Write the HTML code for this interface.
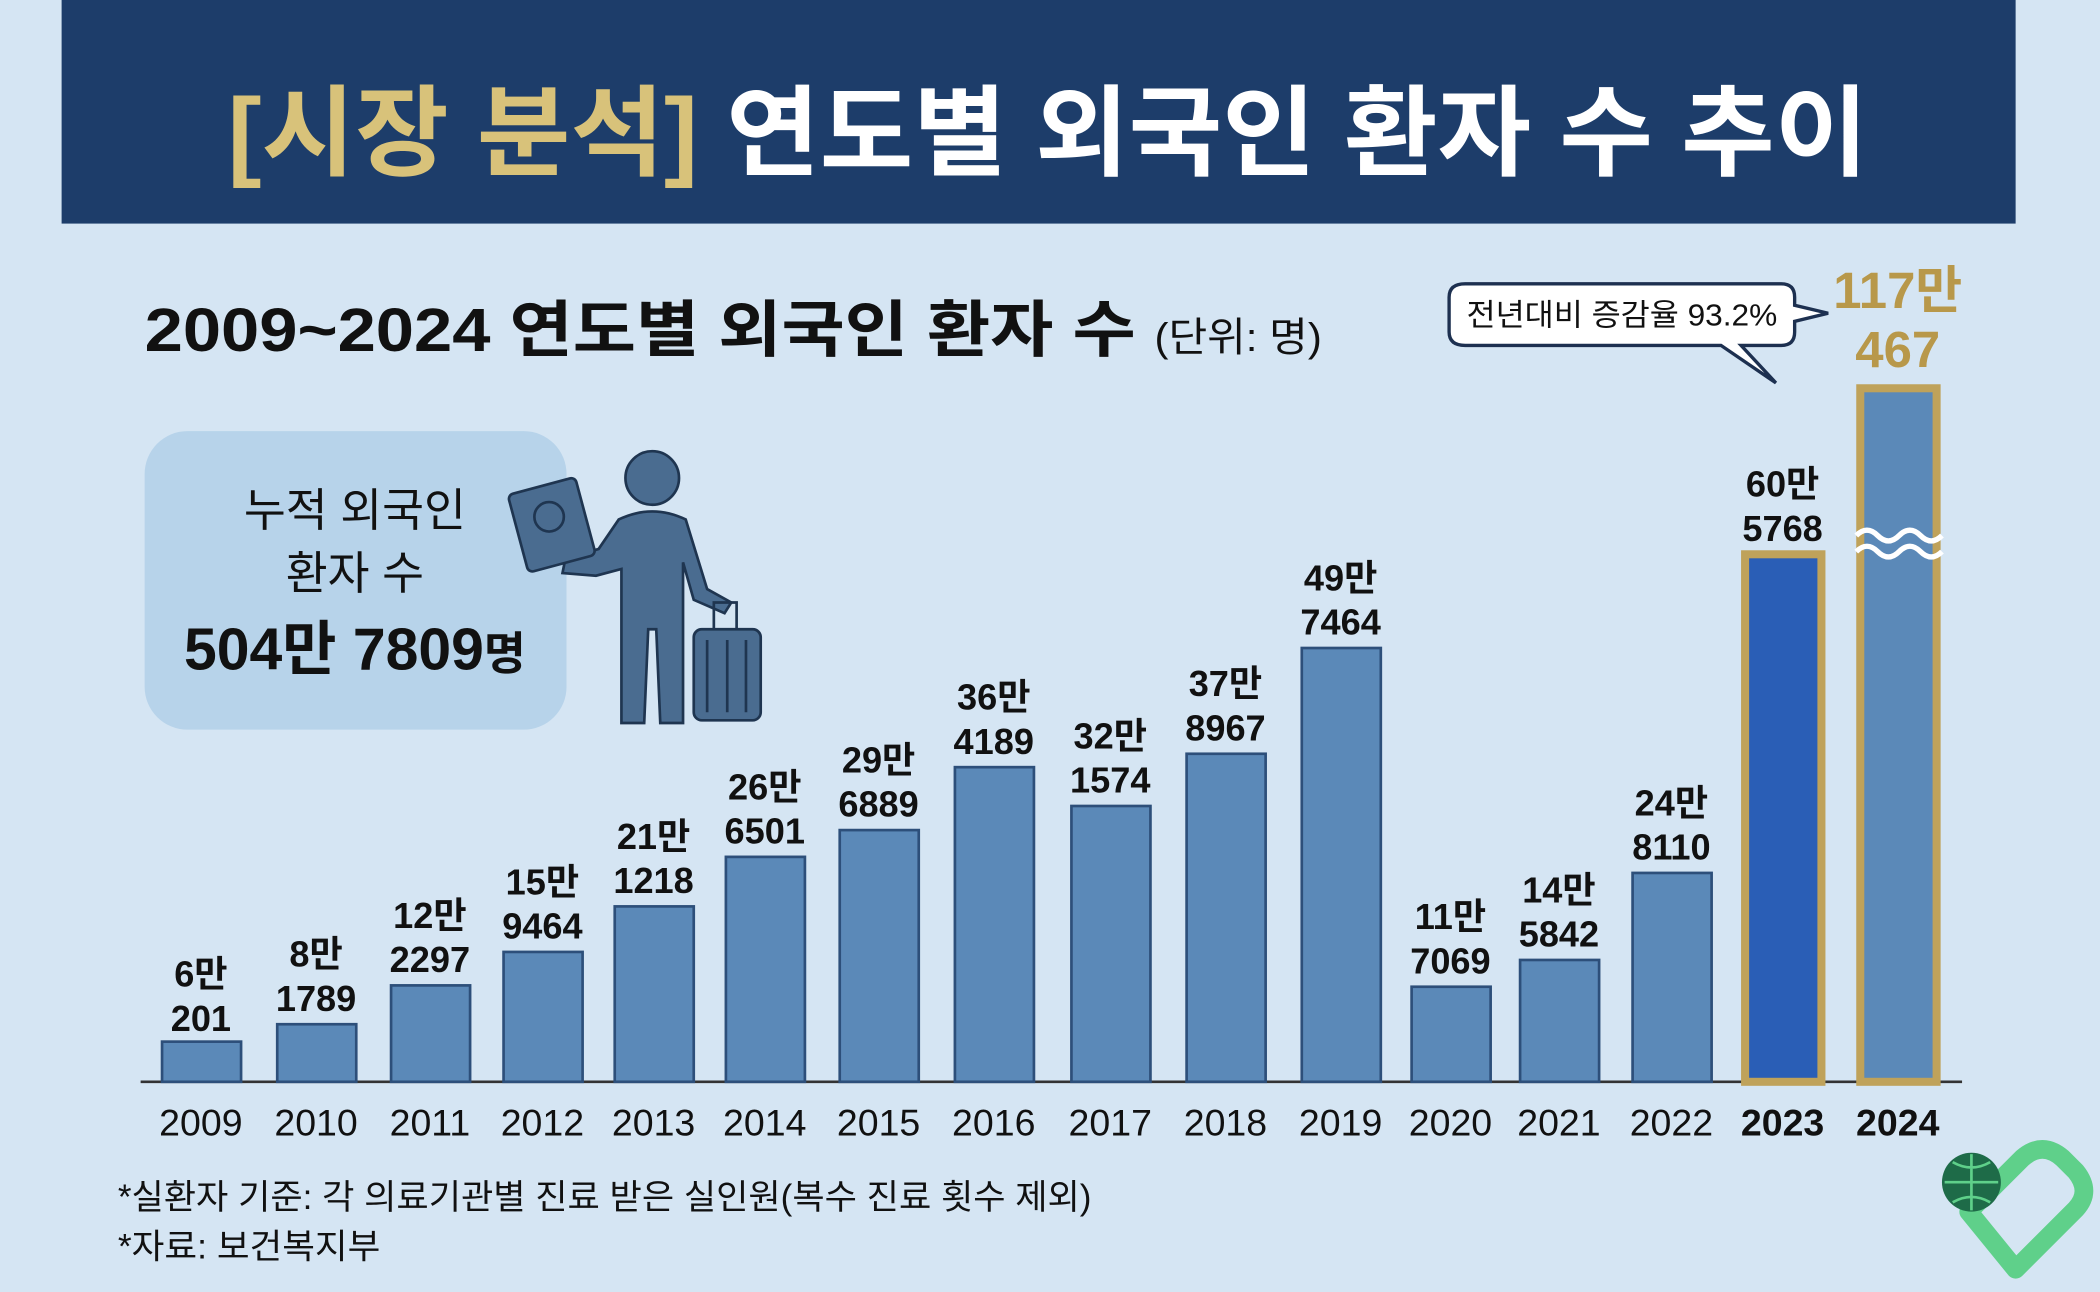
<!DOCTYPE html>
<html><head><meta charset="utf-8"><style>
html,body{margin:0;padding:0;background:#d5e5f3;}
svg{display:block;}
text{font-family:"Liberation Sans","Noto Sans CJK KR",sans-serif;}
</style></head><body>
<svg width="2100" height="1292" viewBox="0 0 1568 965" preserveAspectRatio="none" xmlns="http://www.w3.org/2000/svg">
<rect width="1568" height="965" fill="#d5e5f3"/>
<rect x="46" y="0" width="1459" height="167" fill="#1d3d6a"/>
<text x="170" y="125" font-size="74" font-weight="bold" fill="#fff" textLength="1225" lengthAdjust="spacingAndGlyphs"><tspan fill="#d8c27a">[시장 분석]</tspan> 연도별 외국인 환자 수 추이</text>
<text x="108" y="262" font-size="46" font-weight="bold" fill="#111" textLength="740" lengthAdjust="spacingAndGlyphs">2009~2024 연도별 외국인 환자 수</text>
<text x="862" y="262" font-size="30" fill="#111" textLength="125" lengthAdjust="spacingAndGlyphs">(단위: 명)</text>
<!-- callout -->
<path d="M1094 212 H1330 Q1340 212 1340 222 V228 L1365 234 L1340 240 V248 Q1340 258 1330 258 H1300 L1326 286 L1285 258 H1094 Q1082 258 1082 248 V222 Q1082 212 1094 212 Z" fill="#fff" stroke="#1d3050" stroke-width="2.5"/>
<text x="1211" y="243" text-anchor="middle" font-size="23" fill="#111" textLength="232" lengthAdjust="spacingAndGlyphs">전년대비 증감율 93.2%</text>
<text x="1417" y="230" text-anchor="middle" font-size="38" font-weight="bold" fill="#b8984a">117만</text>
<text x="1417" y="274" text-anchor="middle" font-size="38" font-weight="bold" fill="#b8984a">467</text>
<!-- left box -->
<rect x="108" y="322" width="315" height="223" rx="32" fill="#b7d3ea"/>
<text x="265" y="393" text-anchor="middle" font-size="34" fill="#111">누적 외국인</text>
<text x="265" y="440" text-anchor="middle" font-size="34" fill="#111">환자 수</text>
<text x="265" y="500" text-anchor="middle" font-size="44" font-weight="bold" fill="#111">504만 7809<tspan font-size="34">명</tspan></text>
<!-- person -->
<g fill="#4a6c90" stroke="#1f3550" stroke-width="2">
<circle cx="487" cy="357" r="20"/>
<path d="M462 388 Q487 376 512 388 L528 440 L546 450 L541 458 L518 448 L510 420 L510 540 L493 540 L490 470 L484 470 L481 540 L464 540 L464 425 L445 430 L420 428 L422 418 L447 410 Z"/>
<rect x="386" y="362" width="52" height="60" rx="4" transform="rotate(-15 412 392)"/>
<rect x="518" y="470" width="50" height="68" rx="6"/>
<path d="M533 470 V450 H550 V470" fill="none"/>
</g>
<circle cx="410" cy="386" r="11" fill="none" stroke="#1f3550" stroke-width="2"/>
<line x1="528" y1="478" x2="528" y2="532" stroke="#1f3550" stroke-width="2"/>
<line x1="543" y1="478" x2="543" y2="532" stroke="#1f3550" stroke-width="2"/>
<line x1="557" y1="478" x2="557" y2="532" stroke="#1f3550" stroke-width="2"/>
<!-- axis -->
<line x1="105" y1="808" x2="1465" y2="808" stroke="#333" stroke-width="2"/>
<g fill="#5b89b8" stroke="#2d4f7a" stroke-width="2">
<rect x="121" y="778" width="59" height="30"/>
<rect x="207" y="765" width="59" height="43"/>
<rect x="292" y="736" width="59" height="72"/>
<rect x="376" y="711" width="59" height="97"/>
<rect x="459" y="677" width="59" height="131"/>
<rect x="542" y="640" width="59" height="168"/>
<rect x="627" y="620" width="59" height="188"/>
<rect x="713" y="573" width="59" height="235"/>
<rect x="800" y="602" width="59" height="206"/>
<rect x="886" y="563" width="59" height="245"/>
<rect x="972" y="484" width="59" height="324"/>
<rect x="1054" y="737" width="59" height="71"/>
<rect x="1135" y="717" width="59" height="91"/>
<rect x="1219" y="652" width="59" height="156"/>
</g>
<rect x="1303" y="414" width="57" height="394" fill="#2a5eb6" stroke="#bfa25a" stroke-width="6"/>
<rect x="1389" y="290" width="57" height="518" fill="#5b89b8" stroke="#bfa25a" stroke-width="6"/>
<path d="M1386 400 q8 -8 16 0 t16 0 t16 0 t16 0 M1386 412 q8 -8 16 0 t16 0 t16 0 t16 0" fill="none" stroke="#fff" stroke-width="4"/>
<g font-size="27" font-weight="bold" fill="#111" text-anchor="middle">
<text x="150" y="737">6만</text><text x="150" y="770">201</text>
<text x="236" y="722">8만</text><text x="236" y="755">1789</text>
<text x="321" y="693">12만</text><text x="321" y="726">2297</text>
<text x="405" y="668">15만</text><text x="405" y="701">9464</text>
<text x="488" y="634">21만</text><text x="488" y="667">1218</text>
<text x="571" y="597">26만</text><text x="571" y="630">6501</text>
<text x="656" y="577">29만</text><text x="656" y="610">6889</text>
<text x="742" y="530">36만</text><text x="742" y="563">4189</text>
<text x="829" y="559">32만</text><text x="829" y="592">1574</text>
<text x="915" y="520">37만</text><text x="915" y="553">8967</text>
<text x="1001" y="441">49만</text><text x="1001" y="474">7464</text>
<text x="1083" y="694">11만</text><text x="1083" y="727">7069</text>
<text x="1164" y="674">14만</text><text x="1164" y="707">5842</text>
<text x="1248" y="609">24만</text><text x="1248" y="642">8110</text>
<text x="1331" y="371">60만</text><text x="1331" y="404">5768</text>
</g>
<g font-size="28" fill="#111" text-anchor="middle">
<text x="150" y="848">2009</text><text x="236" y="848">2010</text><text x="321" y="848">2011</text><text x="405" y="848">2012</text>
<text x="488" y="848">2013</text><text x="571" y="848">2014</text><text x="656" y="848">2015</text><text x="742" y="848">2016</text>
<text x="829" y="848">2017</text><text x="915" y="848">2018</text><text x="1001" y="848">2019</text><text x="1083" y="848">2020</text>
<text x="1164" y="848">2021</text><text x="1248" y="848">2022</text>
<text x="1331" y="848" font-weight="bold">2023</text><text x="1417" y="848" font-weight="bold">2024</text>
</g>
<text x="88" y="903" font-size="26" fill="#111" textLength="727" lengthAdjust="spacingAndGlyphs">*실환자 기준: 각 의료기관별 진료 받은 실인원(복수 진료 횟수 제외)</text>
<text x="88" y="940" font-size="26" fill="#111" textLength="196" lengthAdjust="spacingAndGlyphs">*자료: 보건복지부</text>
<!-- logo -->
<path d="M1470 905 L1510 865 Q1525 852 1540 865 L1550 875 Q1562 890 1550 903 L1505 948 Z" fill="none" stroke="#5fd08a" stroke-width="14" stroke-linejoin="round"/>
<circle cx="1472" cy="883" r="22" fill="#1e6b48"/>
<path d="M1452 883 H1492 M1472 862 V904 M1458 868 Q1472 876 1486 868 M1458 898 Q1472 890 1486 898" stroke="#5fd08a" stroke-width="2" fill="none"/>
</svg>
</body></html>
